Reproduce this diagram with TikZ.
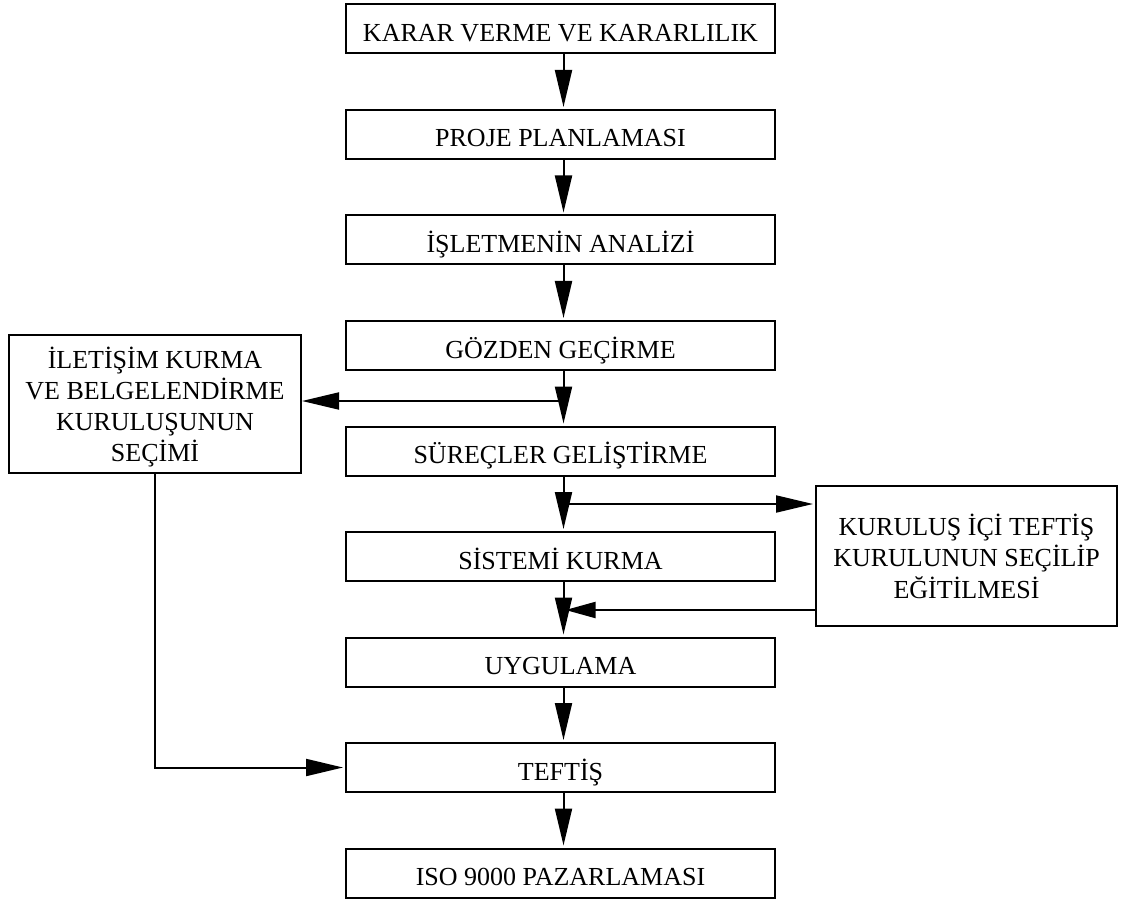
\documentclass[tikz,border=0pt]{standalone}
\usepackage{fontspec}
\setmainfont{Liberation Serif}
\usetikzlibrary{arrows.meta,calc}
\begin{document}
\begin{tikzpicture}[x=1pt,y=-1pt,
  stage/.style={draw,line width=2pt,minimum width=429pt,minimum height=49pt,
    inner sep=0pt,text height=25pt,text depth=0pt,
    font=\fontsize{26}{31.5}\selectfont},
  side/.style={draw,line width=2pt,inner sep=0pt,align=center,
    font=\fontsize{26}{31.5}\selectfont},
  flow/.style={line width=2pt,shorten >=2pt,-{Triangle[length=37pt,width=17pt]}},
  feed/.style={line width=2pt,-{Triangle[length=30pt,width=16pt]}}]
\useasboundingbox (0,0) rectangle (1132,901);

% main column of stages
\node[stage] (s1) at (560.5,29)    {KARAR VERME VE KARARLILIK};
\node[stage] (s2) at (560.5,134.5) {PROJE PLANLAMASI};
\node[stage] (s3) at (560.5,240)   {İŞLETMENİN ANALİZİ};
\node[stage] (s4) at (560.5,345.5) {GÖZDEN GEÇİRME};
\node[stage] (s5) at (560.5,451)   {SÜREÇLER GELİŞTİRME};
\node[stage] (s6) at (560.5,556.5) {SİSTEMİ KURMA};
\node[stage] (s7) at (560.5,662)   {UYGULAMA};
\node[stage] (s8) at (560.5,767.5) {TEFTİŞ};
\node[stage] (s9) at (560.5,873)   {ISO 9000 PAZARLAMASI};

% side boxes
\node[draw,line width=2pt,inner sep=0pt,minimum width=292pt,minimum height=138pt,
  font=\fontsize{26}{31}\selectfont] (cert) at (155,404)
  {\raisebox{-5pt}[\height][\depth]{\begin{tabular}{@{}c@{}}
    İLETİŞİM KURMA\\VE BELGELENDİRME\\KURULUŞUNUN\\SEÇİMİ\end{tabular}}};
\node[side,minimum width=301pt,minimum height=140pt] (audit) at (966.5,556)
  {KURULUŞ İÇİ TEFTİŞ\\KURULUNUN SEÇİLİP\\EĞİTİLMESİ};

% branch points on the main line
\coordinate (j1) at (563.5,401);
\coordinate (j2) at (563.5,504);
\coordinate (j3) at (563.5,610);

% main flow
\foreach \a/\b in {s1/s2,s2/s3,s3/s4,s4/s5,s5/s6,s6/s7,s7/s8,s8/s9}
  \draw[flow] ([xshift=3pt]\a.south) -- ([xshift=3pt]\b.north);

% side branches
\draw[flow,shorten >=0pt] (j1) -- (j1 -| cert.east);
\draw[flow] (j2) -- (j2 -| audit.west);
\draw[feed] (j3 -| audit.west) -- ($(j3)+(2,0)$);
\draw[flow] (cert.south) |- (s8.west);
\end{tikzpicture}
\end{document}
